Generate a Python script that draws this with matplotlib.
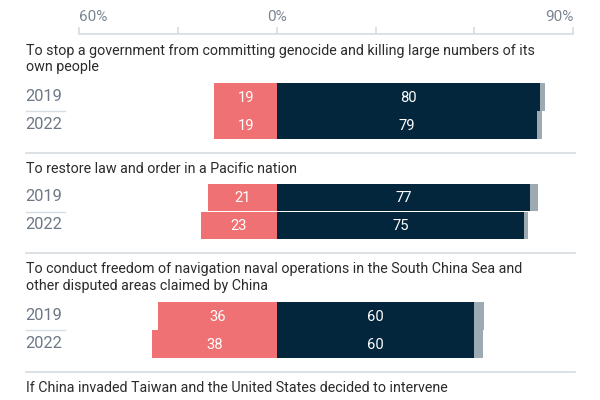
import matplotlib.pyplot as plt
from matplotlib.ticker import FixedLocator, FuncFormatter

plt.rcParams['font.family'] = ['Roboto', 'DejaVu Sans']

# survey data (percent)
questions = [
    "To stop a government from committing genocide and killing large numbers of its\nown people",
    "To restore law and order in a Pacific nation",
    "To conduct freedom of navigation naval operations in the South China Sea and\nother disputed areas claimed by China",
    "If China invaded Taiwan and the United States decided to intervene",
]
years = ["2019", "2022"]
against_2019 = [19, 21, 36]
against_2022 = [19, 23, 38]
favour_2019 = [80, 77, 60]
favour_2022 = [79, 75, 60]
other_2019 = [1.5, 2.4, 3.0]
other_2022 = [1.5, 1.2, 2.5]

major_ticks = [-60, 0, 90]
minor_ticks = [-30, 30, 60]

RED = '#f07173'
NAVY = '#03263d'
GREY = '#9daab1'
LINE = '#d5dce2'
TITLE_C = '#2b2b2b'
YEAR_C = '#6e7886'

fig = plt.figure(figsize=(6, 4), dpi=100)
# y axis in pixels from top, x axis in percent
ax = fig.add_axes([79.3 / 600, 0, 494 / 600, 1])
ax.set_xlim(-60, 90)
ax.set_ylim(400, 0)

for s in ['left', 'right', 'bottom']:
    ax.spines[s].set_visible(False)
ax.spines['top'].set_position(('data', 34))
ax.spines['top'].set_color(LINE)
ax.spines['top'].set_linewidth(1.2)
ax.yaxis.set_visible(False)
ax.xaxis.set_ticks_position('top')
ax.xaxis.set_major_locator(FixedLocator(major_ticks))
ax.xaxis.set_minor_locator(FixedLocator(minor_ticks))
ax.xaxis.set_major_formatter(FuncFormatter(lambda v, p: f"{abs(int(v))}%"))
ax.tick_params(axis='x', which='both', direction='out', length=5, width=1.2,
               color=LINE, labelsize=11, labelcolor='#7a8591', pad=2.5)
# end labels sit inside the axis range
tick_labels = ax.get_xticklabels()
tick_labels[0].set_ha('left')
tick_labels[-1].set_ha('right')

left = -76.3      # left edge of text / rules, in data units
year_end = -64.4
bar_h = 27.5
pitch = 28
line_h = 16.8

top = 34
for i, q in enumerate(questions):
    lines = q.split('\n')
    for k, ln in enumerate(lines):
        ax.text(left, top + 20.5 + k * line_h, ln, fontsize=10.3, color=TITLE_C,
                va='baseline', ha='left', clip_on=False)
    if i >= len(favour_2019):
        break
    bar_top = top + 31 + 18 * (len(lines) - 1)
    rows = [
        (against_2019[i], favour_2019[i], other_2019[i]),
        (against_2022[i], favour_2022[i], other_2022[i]),
    ]
    for j, (a, f, o) in enumerate(rows):
        yc = bar_top + bar_h / 2 + j * pitch
        ax.barh(yc, a, left=-a, height=bar_h, color=RED, linewidth=0)
        ax.barh(yc, f, left=0, height=bar_h, color=NAVY, linewidth=0)
        ax.barh(yc, o, left=f, height=bar_h, color=GREY, linewidth=0)
        ax.text(-a / 2, yc + 5, f"{a:g}", color='white', fontsize=10.6,
                ha='center', va='baseline')
        ax.text(f / 2, yc + 5, f"{f:g}", color='white', fontsize=10.6,
                ha='center', va='baseline')
        ax.text(left, yc + 4, years[j], color=YEAR_C, fontsize=11.8,
                ha='left', va='baseline', clip_on=False)
    ax.plot([left, year_end], [bar_top + pitch, bar_top + pitch], color=LINE,
            lw=1, clip_on=False)
    top = bar_top + 2 * pitch + 13.5
    ax.plot([left, 90.5], [top, top], color=LINE, lw=1.2, clip_on=False)

fig.savefig('out.png', dpi=100)
